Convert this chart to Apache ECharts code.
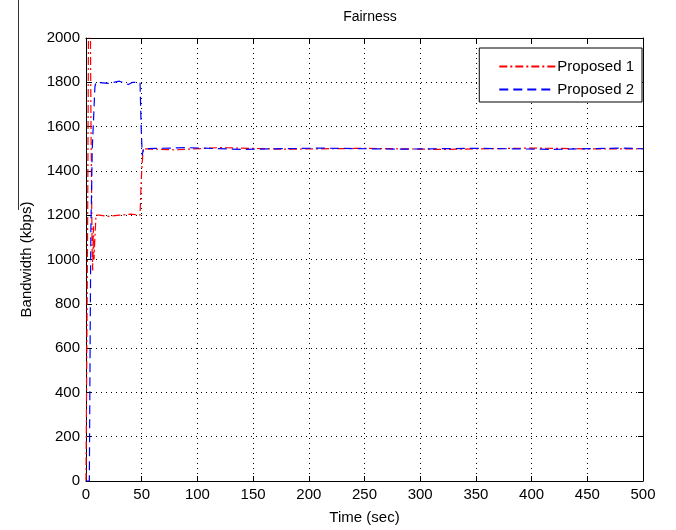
<!DOCTYPE html>
<html>
<head>
<meta charset="utf-8">
<script src="https://cdn.jsdelivr.net/npm/echarts@6/dist/echarts.min.js"></script>
<style>
  html, body { margin: 0; padding: 0; background: #fff; }
</style>
</head>
<body>
<div id="main" style="width:676px;height:530px"></div>
<script>
// time ticks (sec) and bandwidth ticks (kbps)
var xTicks = [0, 50, 100, 150, 200, 250, 300, 350, 400, 450, 500]
var yTicks = [0, 200, 400, 600, 800, 1000, 1200, 1400, 1600, 1800, 2000]

// Proposed 1 : [time, bandwidth]
var proposed1 = [
  [0, 0], [0.8, 0], [1.5, 1200], [2.2, 2000], [4, 2000], [4.5, 1600],
  [5, 1300], [5.5, 1050], [6, 950], [6.6, 1150], [7.2, 1000], [8, 1100],
  [9, 1200], [12, 1200], [20, 1195], [30, 1200], [40, 1205], [48.5, 1200],
  [49.5, 1350], [50.5, 1440], [51.5, 1500], [80, 1495], [120, 1505],
  [180, 1498], [250, 1502], [320, 1497], [400, 1503], [460, 1499], [500, 1500]
]

// Proposed 2 : [time, bandwidth]
var proposed2 = [
  [0, 0], [3, 0], [3.8, 700], [4.4, 1150], [5, 1300], [5.6, 1500],
  [6.5, 1600], [7.2, 1600], [8, 1780], [9, 1800], [20, 1795], [30, 1805],
  [38, 1790], [42, 1800], [48.5, 1800], [49.5, 1600], [50.5, 1470],
  [51.5, 1500], [90, 1505], [140, 1497], [210, 1503], [280, 1498],
  [350, 1502], [420, 1497], [480, 1503], [500, 1500]
]

var myChart = echarts.init(document.getElementById('main'))

var font = 'Liberation Sans, Arial, sans-serif'
var gridLine = { show: true, lineStyle: { color: '#000', type: [1, 4], width: 1 } }

var option = {
  backgroundColor: '#fff',
  animation: false,
  title: {
    text: 'Fairness',
    left: 365,
    textAlign: 'center',
    top: 5,
    textStyle: { fontFamily: font, fontSize: 14, fontWeight: 'normal', color: '#000' }
  },
  legend: {
    right: 34,
    top: 48,
    orient: 'vertical',
    align: 'left',
    backgroundColor: '#fff',
    borderColor: '#000',
    borderWidth: 1,
    borderRadius: 0,
    padding: [11, 8, 5, 19],
    itemGap: 8,
    itemWidth: 56,
    itemHeight: 14,
    itemStyle: { opacity: 0 },
    textStyle: { fontFamily: font, fontSize: 15, color: '#000', padding: [0, 0, 0, -3] },
    data: ['Proposed 1', 'Proposed 2']
  },
  grid: { left: 86, right: 33, top: 38, bottom: 48 },
  xAxis: [{
    type: 'value',
    min: 0,
    max: 500,
    interval: 50,
    name: 'Time (sec)',
    nameLocation: 'middle',
    nameGap: 29,
    nameTextStyle: { fontFamily: font, fontSize: 15, color: '#000' },
    axisLine: { show: true, onZero: false, lineStyle: { color: '#000', width: 1 } },
    axisTick: { show: true, inside: true, length: 5, lineStyle: { color: '#000' } },
    axisLabel: { fontFamily: font, fontSize: 15, color: '#000', margin: 6,
      formatter: function (v) { return xTicks.indexOf(v) >= 0 ? v : '' } },
    splitLine: gridLine
  }, {
    type: 'value',
    position: 'top',
    min: 0,
    max: 500,
    interval: 50,
    axisLine: { show: true, onZero: false, lineStyle: { color: '#000', width: 1 } },
    axisTick: { show: true, inside: true, length: 5, lineStyle: { color: '#000' } },
    axisLabel: { show: false },
    splitLine: { show: false }
  }],
  yAxis: [{
    type: 'value',
    min: 0,
    max: 2000,
    interval: 200,
    name: 'Bandwidth (kbps)',
    nameLocation: 'middle',
    nameGap: 52,
    nameTextStyle: { fontFamily: font, fontSize: 15, color: '#000' },
    axisLine: { show: true, onZero: false, lineStyle: { color: '#000', width: 1 } },
    axisTick: { show: true, inside: true, length: 5, lineStyle: { color: '#000' } },
    axisLabel: { fontFamily: font, fontSize: 15, color: '#000', margin: 6,
      formatter: function (v) { return yTicks.indexOf(v) >= 0 ? v : '' } },
    splitLine: gridLine
  }, {
    type: 'value',
    position: 'right',
    min: 0,
    max: 2000,
    interval: 200,
    axisLine: { show: true, onZero: false, lineStyle: { color: '#000', width: 1 } },
    axisTick: { show: true, inside: true, length: 5, lineStyle: { color: '#000' } },
    axisLabel: { show: false },
    splitLine: { show: false }
  }],
  graphic: [{
    // scan edge on the left of the original figure
    type: 'line',
    shape: { x1: 18.5, y1: 0, x2: 18.5, y2: 210 },
    style: { stroke: '#333', lineWidth: 1 }
  }],
  series: [
    {
      name: 'Proposed 1',
      type: 'line',
      data: proposed1,
      symbol: 'none',
      showSymbol: false,
      color: '#ff0000',
      lineStyle: { color: '#ff0000', width: 1.2, type: [8, 3, 2, 3] },
      z: 3
    },
    {
      name: 'Proposed 2',
      type: 'line',
      data: proposed2,
      symbol: 'none',
      showSymbol: false,
      color: '#0000ff',
      lineStyle: { color: '#0000ff', width: 1.2, type: [9, 5] },
      z: 4
    }
  ]
}
myChart.setOption(option)
</script>
</body>
</html>
